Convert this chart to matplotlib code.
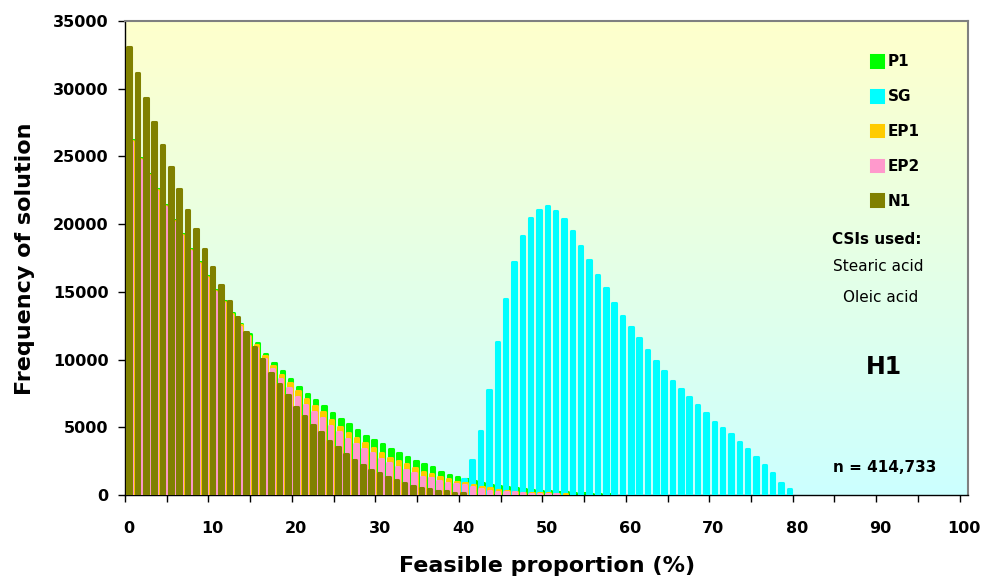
import numpy as np
import matplotlib.pyplot as plt

plt.rcParams['font.family'] = ['DejaVu Sans']

# categories 0..100 (% feasible proportion)
cats = np.arange(101)

p1 = [26230, 24880, 23720, 22590, 21430, 20320, 19260, 18180, 17210, 16150,
      15170, 14360, 13470, 12640, 11900, 11220, 10400, 9760, 9120, 8560,
      8000, 7440, 6980, 6540, 6030, 5590, 5220, 4800, 4360, 4060,
      3770, 3400, 3080, 2780, 2530, 2290, 2090, 1720, 1480, 1300,
      1150, 1000, 870, 760, 660, 570, 500, 430, 370, 320,
      280, 240, 200, 170, 140, 110, 80, 50] + [0] * 43

sg = [0] * 39 + [200, 1150, 2580, 4750, 7750, 11300, 14450, 17220, 19150, 20450,
                 21070, 21330, 20950, 20360, 19490, 18420, 17340, 16250, 15310, 14200,
                 13250, 12400, 11570, 10710, 9890, 9180, 8440, 7850, 7240, 6620,
                 6030, 5410, 4970, 4480, 3890, 3400, 2810, 2190, 1600, 860,
                 420] + [0] * 21

ep1 = [26150, 24800, 23640, 22510, 21350, 20240, 19180, 18100, 17130, 16070,
       15090, 14280, 13380, 12530, 11760, 11060, 10250, 9560, 8870, 8260,
       7660, 7070, 6580, 6100, 5540, 5040, 4550, 4210, 3860, 3490,
       3120, 2750, 2530, 2260, 2020, 1720, 1550, 1350, 1180, 980,
       860, 720, 610, 490, 370, 320, 250, 170, 170, 120,
       120, 100, 80] + [0] * 48

ep2 = [26090, 24740, 23580, 22450, 21290, 20180, 19120, 18040, 17060, 16000,
       15010, 14200, 13290, 12430, 11640, 10880, 10020, 9280, 8540, 7880,
       7260, 6650, 6150, 5660, 5100, 4630, 4110, 3770, 3400, 3080,
       2660, 2340, 2090, 1850, 1600, 1350, 1230, 1030, 910, 810,
       740, 610, 440, 320, 250, 200, 200, 120, 80, 80,
       60, 60] + [0] * 49

n1 = [33060, 31140, 29340, 27520, 25870, 24200, 22620, 21070, 19620, 18160,
      16860, 15510, 14350, 13170, 12060, 10950, 10020, 9030, 8200, 7360,
      6520, 5830, 5200, 4620, 4010, 3540, 3050, 2580, 2210, 1850,
      1600, 1350, 1110, 910, 660, 490, 420, 300, 300, 170,
      170] + [0] * 60

names = ['P1', 'SG', 'EP1', 'EP2', 'N1']
colors = ['#00FF00', '#00FFFF', '#FFCC00', '#FF99CC', '#808000']
offsets = [0.35, 0.1, 0.25, 0.15, 0.0]

fig = plt.figure(figsize=(9.87, 5.82), dpi=100)
ax = fig.add_axes([125 / 987, 87 / 582, 843 / 987, 474 / 582])

# yellow -> cyan background
t = np.linspace(0, 1, 256)[:, None, None]
top = np.array([1.0, 1.0, 0.8])
bot = np.array([0.8, 1.0, 1.0])
grad = top * (1 - t) + bot * t
ax.imshow(grad, extent=[-0.5, 100.5, 0, 35000], aspect='auto', zorder=0)

handles = []
for i, (vals, col, off) in enumerate(zip([p1, sg, ep1, ep2, n1], colors, offsets)):
    vals = np.array(vals)
    m = vals > 0
    b = ax.bar(cats[m] + off, vals[m], width=0.42, color=col, edgecolor=col,
               linewidth=2.2, joinstyle='round', zorder=2 + i)
    handles.append(b)

ax.set_xlim(-0.5, 100.5)
ax.set_ylim(0, 35000)

ax.set_yticks(np.arange(0, 35001, 5000))
ax.tick_params(axis='y', length=5, width=1, pad=7, labelsize=11.5)
ax.set_xticks(np.arange(0, 101, 10))
ax.set_xticks(np.arange(-0.5, 101, 5), minor=True)
ax.tick_params(axis='x', which='major', length=0, pad=19, labelsize=11.5)
ax.tick_params(axis='x', which='minor', length=5, width=1)
for lab in ax.get_xticklabels() + ax.get_yticklabels():
    lab.set_fontweight('bold')

for s in ['left', 'bottom']:
    ax.spines[s].set_color('black')
    ax.spines[s].set_linewidth(1)
for s in ['top', 'right']:
    ax.spines[s].set_color('#808080')
    ax.spines[s].set_linewidth(1.5)

fig.text(547 / 987, 1 - 566 / 582, 'Feasible proportion (%)', ha='center', va='center',
         fontsize=16, fontweight='bold')
fig.text(25 / 987, 1 - 259 / 582, 'Frequency of solution', ha='center', va='center',
         rotation=90, fontsize=16, fontweight='bold')

ax.legend(handles, names, loc='upper left', bbox_to_anchor=(0.885, 0.93),
          frameon=False, prop={'weight': 'bold', 'size': 11},
          handlelength=0.8, handleheight=0.8, handletextpad=0.3,
          labelspacing=1.3, borderaxespad=0, borderpad=0)

fig.text(877 / 987, 1 - 240 / 582, 'CSIs used:', ha='center', va='center',
         fontsize=11, fontweight='bold')
fig.text(878 / 987, 1 - 267 / 582, 'Stearic acid', ha='center', va='center', fontsize=11)
fig.text(881 / 987, 1 - 297 / 582, 'Oleic acid', ha='center', va='center', fontsize=11)
fig.text(884 / 987, 1 - 367 / 582, 'H1', ha='center', va='center',
         fontsize=17, fontweight='bold')
fig.text(885 / 987, 1 - 468 / 582, 'n = 414,733', ha='center', va='center',
         fontsize=11, fontweight='bold')

fig.savefig('out.png', dpi=100)
